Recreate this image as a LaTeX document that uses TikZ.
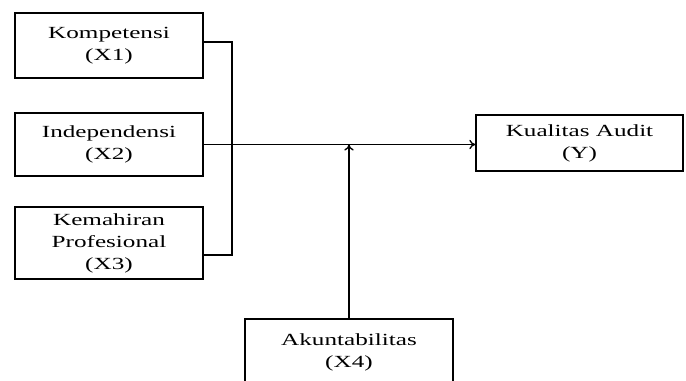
\documentclass[tikz,border=0pt]{standalone}
\usepackage{fontspec}
\setmainfont[FakeStretch=1.48]{Liberation Serif}
\usepackage{tikz}
\usetikzlibrary{arrows.meta}

\begin{document}
\begin{tikzpicture}[x=0.75pt,y=-0.75pt,font=\fontsize{12.75}{16.5}\selectfont,
    varbox/.style={draw,line width=1pt,inner sep=0pt,align=center,minimum width=#1*0.75pt},
    link/.style={line width=1pt},
    tip/.style={-{To[length=4.5pt,width=7pt]}}]
  \useasboundingbox (0,0) rectangle (686,380);
  % independent variables
  \node[varbox=188,minimum height=65*0.75pt] (X1) at (109,45.5) {Kompetensi\\(X1)};
  \node[varbox=188,minimum height=63*0.75pt] (X2) at (109,144.5) {Independensi\\(X2)};
  \node[varbox=188,minimum height=72*0.75pt] (X3) at (109,243) {Kemahiran\\Profesional\\(X3)};
  % dependent variable and moderator
  \node[varbox=207,minimum height=56*0.75pt] (Y) at (579.5,143) {Kualitas Audit\\(Y)};
  \node[varbox=208,minimum height=66*0.75pt] (X4) at (349,352) {Akuntabilitas\\(X4)};
  % bus joining X1..X3
  \coordinate (bustop) at (232,42);
  \coordinate (busbot) at (232,255);
  \draw[link] (X1.east |- bustop) -- (bustop) -- (busbot) -- (X3.east |- busbot);
  \draw[link,tip] (X2.east) -- (Y.west |- X2.east);
  \draw[link,tip] (X4.north) -- (X4.north |- X2.east);
\end{tikzpicture}
\end{document}
